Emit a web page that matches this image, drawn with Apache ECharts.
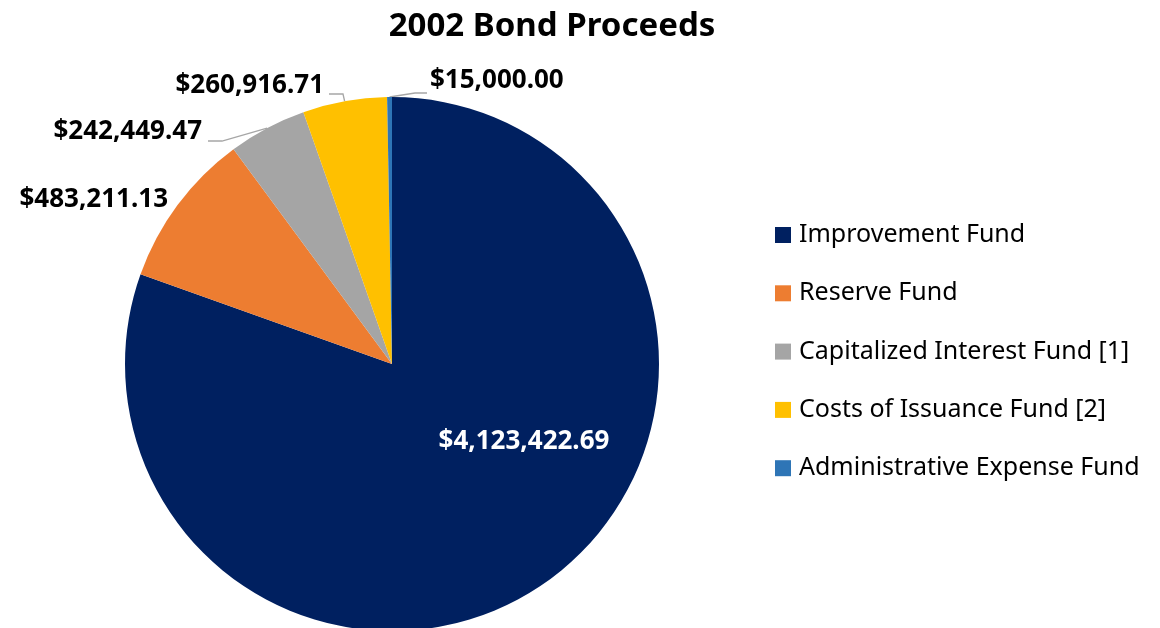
<!DOCTYPE html>
<html><head><meta charset="utf-8">
<script src="https://cdn.jsdelivr.net/npm/echarts@6/dist/echarts.min.js"></script>
<style>html,body{margin:0;padding:0;background:#fff}#c{width:1160px;height:628px}</style>
</head><body><div id="c"></div>
<script>
const categories = ['Improvement Fund','Reserve Fund','Capitalized Interest Fund [1]','Costs of Issuance Fund [2]','Administrative Expense Fund'];
const values = [4123422.69, 483211.13, 242449.47, 260916.71, 15000.00];
const colors = ['#002060','#ED7D31','#A5A5A5','#FFC000','#2E75B6'];
const title = '2002 Bond Proceeds';

const FONT = '"Noto Sans", "DejaVu Sans", sans-serif';
function money(v){ return '$' + v.toLocaleString('en-US',{minimumFractionDigits:2,maximumFractionDigits:2}); }

// label placement (style only)
const labelPlace = [
  {x:524, y:442, align:'center'},
  {x:168, y:200, align:'right'},
  {x:202, y:132, align:'right', line:[[222,141],[208,141]]},
  {x:324, y:86,  align:'right', line:[[343,94],[329,94]]},
  {x:430, y:81,  align:'left',  line:[[415,93],[427,93]]}
];

const chart = echarts.init(document.getElementById('c'), null, {renderer:'canvas'});
chart.setOption({
  animation:false,
  title:{text:title,left:552,top:9,padding:0,textAlign:'center',textStyle:{fontFamily:FONT,fontSize:33,fontWeight:'bold',color:'#000',lineHeight:36}},
  legend:{
    orient:'vertical',left:770,top:215,itemWidth:16,itemHeight:16,itemGap:28.3,icon:'rect',
    textStyle:{fontFamily:FONT,fontSize:25,color:'#000',lineHeight:30,padding:[0,0,0,3]},
    data:categories
  },
  series:[{
    type:'pie',
    center:[392,364],
    radius:267,
    startAngle:90,
    clockwise:true,
    avoidLabelOverlap:false,
    itemStyle:{borderWidth:0},
    emphasis:{disabled:true},
    label:{show:true,position:'outside',fontFamily:FONT,fontSize:26,fontWeight:'bold',color:'#000',
      formatter:p=>money(p.value)},
    labelLine:{show:true,length:10,length2:10,smooth:false,lineStyle:{color:'#A6A6A6',width:1.3}},
    labelLayout:function(p){
      const L = labelPlace[p.dataIndex];
      const out = {x:L.x,y:L.y,align:L.align,verticalAlign:'middle'};
      if (L.line && p.labelLinePoints){
        const e = p.labelLinePoints[0];
        out.labelLinePoints = [e, L.line[0], L.line[1]];
      }
      return out;
    },
    data:categories.map((n,i)=>({
      name:n,value:values[i],itemStyle:{color:colors[i]},
      label: i===0 ? {position:'inside',color:'#fff'} : undefined,
      labelLine: (i===0||i===1) ? {show:false} : undefined
    }))
  }]
});
</script></body></html>
